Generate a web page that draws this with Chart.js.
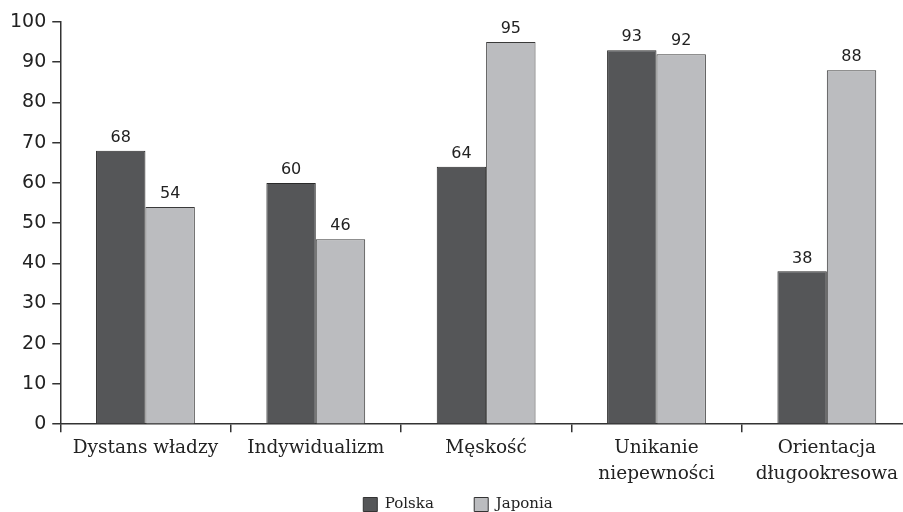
<!DOCTYPE html>
<html>
<head>
<meta charset="utf-8">
<script src="https://cdn.jsdelivr.net/npm/chart.js@4.4.0/dist/chart.umd.min.js"></script>
<style>
  html, body { margin: 0; padding: 0; background: #fff; overflow: hidden; }
  #wrap { width: 912px; height: 512px; }
</style>
</head>
<body>
<div id="wrap"><canvas id="chart" width="912" height="512"></canvas></div>
<script>
const categories = [
  "Dystans władzy",
  "Indywidualizm",
  "Męskość",
  ["Unikanie", "niepewności"],
  ["Orientacja", "długookresowa"]
];
const polska = [68, 60, 64, 93, 38];
const japonia = [54, 46, 95, 92, 88];
const yTicks = [0, 10, 20, 30, 40, 50, 60, 70, 80, 90, 100];

const axisColor = '#333333';

// prints the value above each bar
const valueLabels = {
  id: 'valueLabels',
  afterDatasetsDraw(chart) {
    const ctx = chart.ctx;
    ctx.save();
    ctx.font = '16px "DejaVu Sans"';
    ctx.fillStyle = '#222';
    ctx.textAlign = 'center';
    ctx.textBaseline = 'bottom';
    chart.data.datasets.forEach((ds, i) => {
      chart.getDatasetMeta(i).data.forEach((bar, j) => {
        ctx.fillText(ds.data[j], bar.x, bar.y - 5);
      });
    });
    ctx.restore();
  }
};

new Chart(document.getElementById('chart'), {
  type: 'bar',
  data: {
    labels: categories,
    datasets: [
      { label: 'Polska', data: polska, backgroundColor: '#555658', borderColor: '#2a2a2a', borderWidth: 1 },
      { label: 'Japonia', data: japonia, backgroundColor: '#bbbcbf', borderColor: '#3a3a3a', borderWidth: 1 }
    ]
  },
  options: {
    responsive: false,
    animation: false,
    devicePixelRatio: 1,
    categoryPercentage: 0.58,
    barPercentage: 1,
    layout: { padding: { left: 4, top: 22, right: 0, bottom: -10 } },
    plugins: {
      tooltip: { enabled: false },
      legend: {
        position: 'bottom',
        labels: {
          boxWidth: 14, boxHeight: 14, padding: 7,
          color: '#222',
          font: { family: '"DejaVu Serif"', size: 15 },
          generateLabels: chart => {
            const items = Chart.defaults.plugins.legend.labels.generateLabels(chart);
            items[0].text = items[0].text + '       ';
            items.forEach(it => { it.lineWidth = 1; it.strokeStyle = '#333'; });
            return items;
          }
        }
      }
    },
    scales: {
      x: {
        offset: true,
        grid: { display: true, drawOnChartArea: false, offset: true, tickLength: 8, color: axisColor, lineWidth: 1.5 },
        border: { color: axisColor, width: 1.5 },
        ticks: { color: '#222', padding: 3, maxRotation: 0, autoSkip: false, font: { family: '"DejaVu Serif"', size: 18.5, lineHeight: 1.4 } }
      },
      y: {
        min: 0, max: 100,
        afterBuildTicks: axis => { axis.ticks = yTicks.map(v => ({ value: v })); },
        grid: { display: true, drawOnChartArea: false, tickLength: 8, color: axisColor, lineWidth: 1.5 },
        border: { color: axisColor, width: 1.5 },
        ticks: { color: '#222', padding: 6, font: { family: '"DejaVu Sans"', size: 19 } }
      }
    }
  },
  plugins: [valueLabels]
});
</script>
</body>
</html>
